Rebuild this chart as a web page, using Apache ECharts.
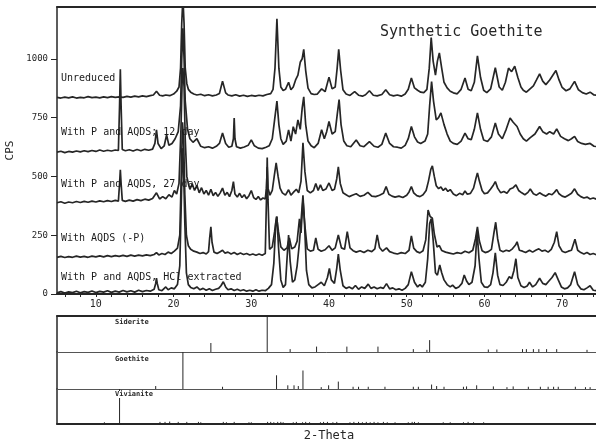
<!DOCTYPE html>
<html>
<head>
<meta charset="utf-8">
<script src="https://cdn.jsdelivr.net/npm/echarts@6/dist/echarts.min.js"></script>
<style>
  html, body { margin: 0; padding: 0; background: #fff; }
  #chart { width: 596px; height: 443px; }
</style>
</head>
<body>
<div id="chart"></div>
<script>
// X-ray diffraction scans of synthetic goethite, stacked with CPS offsets,
// plus reference stick patterns for siderite, goethite and vivianite.

const xTickLabels = [10, 20, 30, 40, 50, 60, 70];
const xTickMarks = [6, 8, 10, 12, 14, 16, 18, 20, 22, 24, 26, 28, 30, 32, 34, 36, 38, 40, 42, 44, 46, 48, 50, 52, 54, 56, 58, 60, 62, 64, 66, 68, 70, 72, 74];
const yTickLabels = [0, 250, 500, 750, 1000];

const seriesNames = [
  'Unreduced',
  'With P and AQDS; 12 day',
  'With P and AQDS, 27 day',
  'With AQDS (-P)',
  'With P and AQDS, HCl extracted'
];

// [2-theta, CPS]
const unreduced = [[5,836],[5.5,833],[6,837],[6.5,834],[7,838],[7.5,833],[8,836],[8.5,834],[9,839],[9.5,835],[10,837],[10.5,834],[11,838],[11.5,835],[12,839],[12.5,836],[13,838],[13.5,836],[14,840],[14.5,837],[15,841],[15.5,838],[16,842],[16.5,839],[17,843],[17.4,846],[17.8,862],[18.2,845],[18.6,842],[19,846],[19.5,843],[20,850],[20.4,862],[20.7,880],[20.9,960],[21.05,1150],[21.2,1260],[21.35,1150],[21.5,960],[21.7,895],[21.9,870],[22.2,858],[22.6,850],[23,846],[23.5,849],[24,843],[24.5,847],[25,842],[25.5,846],[25.9,852],[26.3,905],[26.7,855],[27,846],[27.5,842],[28,847],[28.5,841],[29,845],[29.5,840],[30,844],[30.5,841],[31,845],[31.5,842],[32,848],[32.5,852],[32.8,870],[33.05,960],[33.3,1170],[33.55,960],[33.8,880],[34.1,865],[34.4,870],[34.8,900],[35.1,868],[35.4,880],[35.7,910],[36.0,930],[36.3,985],[36.55,1000],[36.75,1040],[37.0,950],[37.3,875],[37.7,852],[38.1,848],[38.5,850],[39.05,872],[39.5,860],[40.0,922],[40.4,872],[40.8,880],[41.05,960],[41.25,1040],[41.5,950],[41.8,868],[42.2,850],[42.7,844],[43.3,860],[43.8,845],[44.3,841],[44.7,847],[45.2,864],[45.7,845],[46.2,842],[46.8,848],[47.3,868],[47.8,847],[48.3,842],[48.8,846],[49.3,841],[49.8,850],[50.2,870],[50.6,918],[51.0,876],[51.4,866],[51.8,858],[52.2,856],[52.6,870],[52.9,960],[53.15,1090],[53.4,990],[53.7,930],[53.95,990],[54.2,1025],[54.5,960],[54.8,900],[55.2,876],[55.6,862],[56.0,855],[56.5,851],[57.0,870],[57.5,918],[57.9,870],[58.3,864],[58.7,900],[59.1,1012],[59.5,920],[59.9,866],[60.3,856],[60.8,872],[61.4,962],[61.9,880],[62.3,866],[62.7,900],[63.1,960],[63.5,945],[63.9,968],[64.3,920],[64.7,880],[65.0,866],[65.4,858],[65.8,870],[66.3,885],[66.7,910],[67.1,936],[67.5,905],[67.9,890],[68.4,910],[68.8,930],[69.2,950],[69.6,910],[70.0,878],[70.5,864],[71.0,872],[71.6,904],[72.1,868],[72.6,856],[73.1,850],[73.6,858],[74.1,846],[74.6,845],[75,847]];

const p12day = [[5,603],[5.5,607],[6,601],[6.5,606],[7,603],[7.5,608],[8,604],[8.5,609],[9,605],[9.5,610],[10,606],[10.5,612],[11,607],[11.5,611],[12,608],[12.5,612],[12.9,610],[13.05,800],[13.15,955],[13.25,800],[13.4,614],[13.8,609],[14.3,613],[14.8,608],[15.3,614],[15.8,609],[16.3,615],[16.8,611],[17.3,616],[17.6,640],[17.8,698],[18.0,640],[18.4,618],[18.8,630],[19.1,676],[19.4,632],[19.8,640],[20.2,660],[20.6,690],[20.9,800],[21.05,1000],[21.2,1130],[21.35,1000],[21.5,820],[21.8,700],[22.1,660],[22.5,645],[23.0,660],[23.5,628],[24,622],[24.5,626],[25,620],[25.5,628],[25.9,640],[26.3,684],[26.7,640],[27.1,624],[27.5,628],[27.7,660],[27.8,748],[27.9,660],[28.1,626],[28.6,620],[29.1,625],[29.6,632],[30.0,655],[30.4,630],[30.9,620],[31.4,618],[31.9,624],[32.3,630],[32.7,660],[33.0,740],[33.3,820],[33.55,720],[33.8,660],[34.1,636],[34.5,650],[34.8,698],[35.1,650],[35.4,711],[35.7,680],[36.0,740],[36.3,700],[36.55,790],[36.75,838],[37.0,720],[37.3,650],[37.7,630],[38.1,622],[38.6,640],[39.05,698],[39.4,660],[39.7,690],[40.0,733],[40.4,680],[40.8,690],[41.05,760],[41.3,826],[41.55,720],[41.9,650],[42.3,630],[42.8,626],[43.5,655],[44.0,630],[44.5,626],[45.2,648],[45.8,628],[46.3,624],[46.8,636],[47.3,684],[47.8,640],[48.3,626],[48.8,624],[49.3,620],[49.8,632],[50.2,660],[50.6,712],[51.0,668],[51.4,646],[51.8,640],[52.35,650],[52.7,680],[52.95,800],[53.2,903],[53.45,820],[53.8,740],[54.1,750],[54.4,770],[54.8,720],[55.2,680],[55.6,650],[56.0,640],[56.5,636],[57.0,650],[57.5,684],[57.9,660],[58.3,656],[58.7,700],[59.1,770],[59.5,700],[59.9,655],[60.4,648],[60.9,668],[61.4,727],[61.8,680],[62.3,660],[62.8,700],[63.3,748],[63.7,730],[64.2,712],[64.6,680],[65.0,660],[65.4,650],[65.9,665],[66.5,680],[67.1,712],[67.5,690],[68.0,680],[68.4,690],[68.9,680],[69.3,702],[69.8,670],[70.3,660],[70.8,652],[71.2,660],[71.6,670],[72.0,648],[72.5,640],[73.0,636],[73.6,640],[74.1,628],[74.6,626],[75,628]];

const p27day = [[5,388],[5.5,392],[6,386],[6.5,391],[7,388],[7.5,393],[8,389],[8.5,394],[9,390],[9.5,395],[10,391],[10.5,396],[11,392],[11.5,397],[12,393],[12.5,398],[12.9,395],[13.05,470],[13.15,528],[13.25,470],[13.4,398],[13.8,394],[14.3,399],[14.8,395],[15.3,401],[15.8,397],[16.3,403],[16.8,399],[17.3,406],[17.8,430],[18.2,404],[18.6,414],[19.0,405],[19.4,422],[19.8,412],[20.1,440],[20.4,425],[20.7,470],[20.95,700],[21.1,900],[21.2,960],[21.35,880],[21.5,660],[21.7,500],[21.9,470],[22.1,445],[22.4,468],[22.7,440],[23.0,462],[23.3,430],[23.6,452],[23.9,425],[24.2,440],[24.5,420],[24.8,445],[25.1,418],[25.4,432],[25.7,415],[26.0,430],[26.3,450],[26.6,420],[26.9,432],[27.2,414],[27.5,440],[27.7,478],[27.9,425],[28.2,412],[28.5,428],[28.8,410],[29.1,422],[29.4,405],[29.7,418],[30.0,440],[30.3,410],[30.6,402],[30.9,414],[31.2,400],[31.5,408],[31.8,404],[31.95,450],[32.05,540],[32.15,450],[32.4,420],[32.7,440],[32.95,500],[33.2,557],[33.45,500],[33.7,450],[34.0,430],[34.4,420],[34.8,443],[35.1,420],[35.5,435],[35.8,445],[36.1,430],[36.4,480],[36.65,643],[36.9,520],[37.2,440],[37.6,430],[38.0,440],[38.3,470],[38.6,440],[38.9,464],[39.2,440],[39.6,446],[40.0,472],[40.4,440],[40.7,445],[41.0,490],[41.2,540],[41.45,470],[41.8,430],[42.2,422],[42.6,414],[43.0,420],[43.5,426],[44.0,415],[44.5,420],[45.0,432],[45.5,416],[46.0,414],[46.5,420],[47.0,428],[47.35,457],[47.7,424],[48.1,416],[48.5,412],[49.0,416],[49.5,410],[50.0,420],[50.3,434],[50.6,457],[50.9,430],[51.3,418],[51.7,414],[52.1,422],[52.5,440],[52.8,480],[53.1,530],[53.3,545],[53.55,500],[53.8,460],[54.1,448],[54.4,455],[54.7,440],[55.0,450],[55.3,436],[55.6,444],[56.0,425],[56.4,418],[56.8,428],[57.2,422],[57.5,438],[57.8,424],[58.2,428],[58.6,450],[58.9,490],[59.1,515],[59.35,480],[59.7,440],[60.0,426],[60.4,430],[60.8,446],[61.1,460],[61.4,478],[61.7,450],[62.1,430],[62.5,436],[62.9,428],[63.3,446],[63.7,452],[64.05,464],[64.4,440],[64.8,430],[65.2,422],[65.6,432],[65.9,446],[66.3,426],[66.7,420],[67.1,430],[67.5,422],[67.9,416],[68.3,426],[68.7,422],[69.0,432],[69.3,444],[69.6,426],[70.0,416],[70.4,412],[70.8,420],[71.2,428],[71.6,447],[72.0,424],[72.4,414],[72.8,408],[73.2,412],[73.6,404],[74.0,408],[74.5,402],[75,404]];

const aqdsNoP = [[5,156],[5.5,160],[6,155],[6.5,159],[7,156],[7.5,161],[8,157],[8.5,160],[9,156],[9.5,161],[10,158],[10.5,162],[11,158],[11.5,163],[12,159],[12.5,163],[13,160],[13.5,164],[14,160],[14.5,165],[15,161],[15.5,165],[16,162],[16.5,166],[17,163],[17.5,168],[17.8,176],[18.1,166],[18.5,172],[18.9,168],[19.3,178],[19.7,172],[20.1,182],[20.5,195],[20.8,250],[21.0,520],[21.15,730],[21.3,650],[21.45,420],[21.65,250],[21.9,205],[22.2,190],[22.6,182],[23.0,178],[23.4,172],[23.8,176],[24.2,170],[24.5,180],[24.65,240],[24.8,286],[24.95,220],[25.2,178],[25.6,172],[26.0,180],[26.3,186],[26.6,174],[27.0,178],[27.4,170],[27.8,176],[28.2,168],[28.6,174],[29.0,168],[29.4,172],[29.8,166],[30.2,170],[30.6,165],[31.0,170],[31.4,165],[31.8,172],[31.95,400],[32.05,580],[32.15,400],[32.35,190],[32.7,200],[33.0,265],[33.25,329],[33.5,265],[33.8,200],[34.2,186],[34.6,196],[34.9,238],[35.2,192],[35.6,200],[35.9,225],[36.2,320],[36.4,260],[36.65,400],[36.9,290],[37.2,192],[37.6,182],[38.0,186],[38.3,238],[38.6,190],[39.0,182],[39.5,188],[40.0,205],[40.4,186],[40.8,196],[41.2,251],[41.6,196],[42.0,190],[42.35,265],[42.7,196],[43.1,184],[43.5,178],[44.0,184],[44.5,176],[45.0,186],[45.5,180],[45.9,192],[46.2,251],[46.5,198],[46.9,182],[47.4,196],[47.8,180],[48.3,174],[48.8,170],[49.3,176],[49.8,172],[50.3,186],[50.6,247],[50.9,195],[51.3,180],[51.7,175],[52.1,184],[52.45,230],[52.75,357],[53.0,330],[53.3,322],[53.55,255],[53.9,200],[54.2,206],[54.5,185],[55.0,178],[55.5,174],[56.0,170],[56.5,176],[57.0,172],[57.5,182],[58.0,175],[58.5,186],[58.85,235],[59.1,285],[59.35,225],[59.7,184],[60.1,176],[60.5,180],[60.9,190],[61.2,255],[61.45,305],[61.7,235],[62.0,186],[62.4,180],[62.8,186],[63.2,182],[63.6,192],[64.0,208],[64.2,222],[64.5,186],[64.9,182],[65.3,176],[65.8,186],[66.2,178],[66.6,186],[67.0,192],[67.4,182],[67.8,186],[68.2,178],[68.6,190],[69.0,220],[69.3,265],[69.6,205],[70.0,182],[70.4,176],[70.8,182],[71.2,186],[71.65,233],[72.0,186],[72.4,176],[72.8,170],[73.2,176],[73.6,168],[74.0,172],[74.5,166],[75,168]];

const hclExtracted = [[5,5],[5.5,10],[6,4],[6.5,9],[7,6],[7.5,12],[8,5],[8.5,10],[9,7],[9.5,13],[10,6],[10.5,11],[11,8],[11.5,14],[12,7],[12.5,12],[13,8],[13.5,15],[14,9],[14.5,14],[15,8],[15.5,16],[16,10],[16.5,15],[17,12],[17.5,20],[17.7,45],[17.8,67],[17.9,45],[18.1,18],[18.5,14],[19.0,30],[19.3,18],[19.7,26],[20.1,22],[20.5,40],[20.8,120],[21.0,400],[21.15,620],[21.3,520],[21.45,300],[21.65,90],[21.9,40],[22.2,28],[22.6,22],[23.0,30],[23.4,18],[23.8,24],[24.2,16],[24.6,22],[25.0,15],[25.4,20],[25.8,24],[26.1,35],[26.4,52],[26.7,30],[27.0,18],[27.4,22],[27.8,15],[28.2,20],[28.6,14],[29.0,18],[29.4,12],[29.8,16],[30.2,12],[30.6,18],[31.0,12],[31.4,16],[31.8,14],[32.2,24],[32.6,40],[32.9,130],[33.15,300],[33.3,329],[33.5,200],[33.8,60],[34.1,28],[34.4,40],[34.6,150],[34.8,251],[35.0,140],[35.3,50],[35.6,60],[35.9,120],[36.2,220],[36.45,330],[36.65,420],[36.85,300],[37.1,100],[37.4,40],[37.8,26],[38.2,30],[38.6,40],[39.0,50],[39.4,35],[39.8,70],[40.05,109],[40.3,60],[40.7,45],[41.0,110],[41.2,170],[41.45,100],[41.8,35],[42.2,24],[42.6,30],[43.0,22],[43.4,36],[43.8,20],[44.2,30],[44.6,24],[45.05,42],[45.4,24],[45.8,30],[46.2,22],[46.6,28],[47.0,24],[47.4,44],[47.8,22],[48.2,26],[48.6,18],[49.0,22],[49.4,16],[49.8,24],[50.2,40],[50.6,95],[51.0,50],[51.4,30],[51.7,40],[52.0,30],[52.4,50],[52.7,150],[52.95,300],[53.15,320],[53.4,230],[53.7,90],[53.95,80],[54.25,123],[54.5,90],[54.8,60],[55.2,40],[55.6,30],[55.9,38],[56.3,24],[56.7,30],[57.1,45],[57.4,81],[57.7,55],[58.0,40],[58.4,50],[58.8,120],[59.05,270],[59.3,150],[59.6,50],[60.0,30],[60.4,28],[60.8,40],[61.1,90],[61.4,175],[61.7,80],[62.0,40],[62.4,36],[62.8,50],[63.2,74],[63.5,65],[63.8,100],[64.05,150],[64.3,70],[64.7,35],[65.1,28],[65.5,34],[65.8,50],[66.2,30],[66.6,40],[67.1,67],[67.5,45],[67.9,40],[68.3,55],[68.7,70],[69.1,91],[69.5,60],[69.9,30],[70.3,22],[70.7,26],[71.1,40],[71.6,95],[72.0,40],[72.4,22],[72.8,18],[73.2,26],[73.6,35],[74.0,16],[74.5,14],[75,15]];

// Reference sticks: [2-theta, relative intensity %]
const siderite = [[24.8,25],[32.05,100],[35.0,8],[38.4,15],[42.3,15],[46.3,15],[50.85,8],[52.6,6],[52.95,33],[60.5,7],[61.6,7],[64.9,8],[65.4,8],[66.3,8],[67.0,8],[68.0,8],[69.3,8],[73.2,6]];
const goethite = [[17.7,8],[21.2,100],[26.3,6],[33.25,37],[34.7,10],[35.5,10],[36.05,8],[36.65,50],[39.0,5],[39.95,10],[41.2,20],[43.1,6],[43.8,6],[45.05,6],[47.2,6],[50.85,6],[51.5,6],[53.2,12],[53.85,8],[54.8,6],[57.3,6],[57.7,7],[59.0,10],[61.15,7],[62.9,5],[63.7,7],[65.65,6],[67.2,6],[68.2,6],[68.9,6],[69.5,6],[71.7,6],[73.0,5],[73.6,5]];
const vivianite = [[11.1,5],[13.05,100],[18.25,6],[18.9,6],[19.5,7],[20.6,6],[21.7,6],[23.2,6],[23.5,5],[26.4,6],[26.8,5],[27.8,6],[29.7,5],[30.0,5],[32.1,6],[32.5,6],[32.9,5],[33.4,6],[33.8,6],[34.1,5],[35.4,5],[35.8,6],[36.6,5],[37.0,6],[37.5,5],[38.9,5],[39.3,6],[39.8,6],[40.5,5],[41.0,6],[42.7,5],[43.2,6],[43.8,6],[44.3,5],[44.8,6],[45.3,5],[45.8,6],[46.3,5],[47.0,6],[47.5,5],[48.5,5],[50.2,5],[50.7,6],[51.0,6],[51.5,5],[54.7,5],[55.6,5],[57.3,5],[57.9,6],[58.6,5],[59.9,5]];
const phaseNames = ['Siderite', 'Goethite', 'Vivianite'];

const MONO = 'DejaVu Sans Mono';
const INK = '#262626';

// sticks for lower panel i live on grid i+1: xAxis i+2 (0 and 1 belong to the scan grid), yAxis i+1
function stickSeries(data, i) {
  return {
    type: 'custom',
    coordinateSystem: 'cartesian2d',
    xAxisIndex: i + 2,
    yAxisIndex: i + 1,
    data: data,
    clip: true,
    renderItem: function (params, api) {
      const base = api.coord([api.value(0), 0]);
      const top = api.coord([api.value(0), api.value(1)]);
      return {
        type: 'line',
        shape: { x1: base[0], y1: base[1], x2: top[0], y2: top[1] },
        style: { stroke: INK, lineWidth: 1 }
      };
    }
  };
}

function traceSeries(data) {
  return {
    type: 'line',
    xAxisIndex: 0,
    yAxisIndex: 0,
    data: data,
    showSymbol: false,
    clip: true,
    lineStyle: { color: INK, width: 1.7 },
    animation: false
  };
}

const X0 = 5, X1 = 75;
const GL = 57, GW = 544;

const lowerGrids = [
  { left: GL, width: GW, top: 316, height: 36, outerBoundsMode: 'none' },
  { left: GL, width: GW, top: 352, height: 37, outerBoundsMode: 'none' },
  { left: GL, width: GW, top: 389, height: 35, outerBoundsMode: 'none' }
];

const xAxes = [
  {
    gridIndex: 0, type: 'value', min: X0, max: X1, position: 'bottom',
    axisLine: { show: true, lineStyle: { color: INK, width: 2 } },
    axisTick: { show: true, customValues: xTickMarks, length: 3, lineStyle: { color: INK, width: 1 } },
    axisLabel: { show: true, customValues: xTickLabels, margin: 5, color: INK, fontFamily: MONO, fontSize: 10 },
    splitLine: { show: false }
  },
  {
    gridIndex: 0, type: 'value', min: X0, max: X1, position: 'top',
    axisLine: { show: true, lineStyle: { color: INK, width: 2 } },
    axisTick: { show: false }, axisLabel: { show: false }, splitLine: { show: false }
  }
];
const yAxes = [
  {
    gridIndex: 0, type: 'value', min: 0, max: 1220,
    name: 'CPS', nameLocation: 'middle', nameGap: 40, nameRotate: 90,
    nameTextStyle: { color: INK, fontFamily: MONO, fontSize: 11 },
    axisLine: { show: true, lineStyle: { color: INK, width: 1.5 } },
    axisTick: { show: true, customValues: yTickLabels, length: 6, lineStyle: { color: INK, width: 1 } },
    axisLabel: {
      show: true, customValues: yTickLabels, margin: 9, color: INK, fontFamily: MONO, fontSize: 9,
      formatter: function (v) { return String(v); }
    },
    splitLine: { show: false }
  }
];

lowerGrids.forEach(function (g, i) {
  const gi = i + 1;
  const last = i === lowerGrids.length - 1;
  xAxes.push({
    gridIndex: gi, type: 'value', min: X0, max: X1, position: 'bottom',
    axisLine: { show: true, lineStyle: { color: last ? INK : '#555', width: last ? 2 : 1 } },
    axisTick: { show: false }, axisLabel: { show: false }, splitLine: { show: false },
    name: last ? '2-Theta' : '', nameLocation: 'middle', nameGap: 6,
    nameTextStyle: { color: INK, fontFamily: MONO, fontSize: 12 }
  });
  yAxes.push({
    gridIndex: gi, type: 'value', min: 0, max: 100,
    axisLine: { show: true, lineStyle: { color: INK, width: 1.5 } },
    axisTick: { show: false }, axisLabel: { show: false }, splitLine: { show: false }
  });
});
// top border of the stick panel
xAxes.push({
  gridIndex: 1, type: 'value', min: X0, max: X1, position: 'top',
  axisLine: { show: true, lineStyle: { color: INK, width: 2 } },
  axisTick: { show: false }, axisLabel: { show: false }, splitLine: { show: false }
});

const traceLabelTops = [73, 127, 179, 233, 272];
const phaseLabelTops = [319, 356, 391];

const graphics = [];
seriesNames.forEach(function (name, i) {
  graphics.push({
    type: 'text', left: 61, top: traceLabelTops[i], z: 10,
    style: { text: name, fill: '#1a1a1a', font: '10px "DejaVu Sans Mono"' }
  });
});
phaseNames.forEach(function (name, i) {
  graphics.push({
    type: 'text', left: 115, top: phaseLabelTops[i], z: 10,
    style: { text: name, fill: INK, font: 'bold 7px "DejaVu Sans Mono"', backgroundColor: '#fff' }
  });
});

const chart = echarts.init(document.getElementById('chart'), null, { renderer: 'canvas' });
chart.setOption({
  animation: false,
  backgroundColor: '#ffffff',
  title: {
    text: 'Synthetic Goethite', left: 375, top: 20,
    textStyle: { color: INK, fontFamily: MONO, fontSize: 15, fontWeight: 'normal' }
  },
  grid: [{ left: GL, width: GW, top: 7, height: 287, outerBoundsMode: 'none' }].concat(lowerGrids),
  xAxis: xAxes,
  yAxis: yAxes,
  series: [
    traceSeries(unreduced),
    traceSeries(p12day),
    traceSeries(p27day),
    traceSeries(aqdsNoP),
    traceSeries(hclExtracted),
    stickSeries(siderite, 0),
    stickSeries(goethite, 1),
    stickSeries(vivianite, 2)
  ],
  graphic: graphics
});
</script>
</body>
</html>
